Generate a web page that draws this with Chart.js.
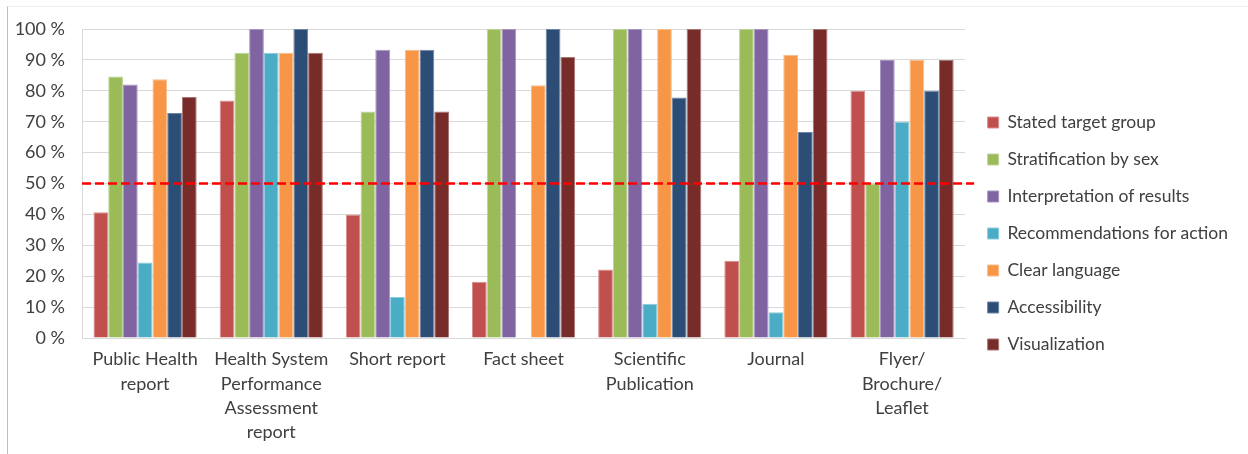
<!DOCTYPE html>
<html>
<head>
<meta charset="utf-8">
<script src="https://cdn.jsdelivr.net/npm/chart.js@4.4.1/dist/chart.umd.min.js"></script>
<style>
  html, body { margin: 0; padding: 0; background: #ffffff; }
  #wrap { position: relative; width: 1248px; height: 454px; overflow: hidden; }
  #frame { position: absolute; left: 7px; top: 6px; right: -2px; bottom: -2px;
           border-left: 1px solid #BDBDBD; border-top: 1px solid #F0F0F0; }
  canvas { position: absolute; left: 0; top: 0; }
</style>
</head>
<body>
<div id="wrap">
  <div id="frame"></div>
  <canvas id="c" width="1248" height="454"></canvas>
</div>
<script>
// ---- data ----
const categories = [
  ["Public Health", "report"],
  ["Health System", "Performance", "Assessment", "report"],
  ["Short report"],
  ["Fact sheet"],
  ["Scientific", "Publication"],
  ["Journal"],
  ["Flyer/", "Brochure/", "Leaflet"]
];
const seriesNames = [
  "Stated target group",
  "Stratification by sex",
  "Interpretation of results",
  "Recommendations for action",
  "Clear language",
  "Accessibility",
  "Visualization"
];
const statedTargetGroup        = [40.7, 76.9, 40.0, 18.2, 22.2, 25.0, 80.0];
const stratificationBySex      = [84.6, 92.3, 73.3, 100, 100, 100, 50.0];
const interpretationOfResults  = [82.0, 100, 93.3, 100, 100, 100, 90.0];
const recommendationsForAction = [24.4, 92.3, 13.3, 0, 11.1, 8.3, 70.0];
const clearLanguage            = [83.7, 92.3, 93.3, 81.8, 100, 91.7, 90.0];
const accessibility            = [72.8, 100, 93.3, 100, 77.8, 66.7, 80.0];
const visualization            = [78.0, 92.3, 73.3, 90.9, 100, 100, 90.0];
const yTicks = [0, 10, 20, 30, 40, 50, 60, 70, 80, 90, 100];
const thresholdValue = 50;

const seriesValues = [statedTargetGroup, stratificationBySex, interpretationOfResults,
  recommendationsForAction, clearLanguage, accessibility, visualization];
const fills   = ["#C0504D", "#9BBB59", "#8064A2", "#4BACC6", "#F79646", "#2C4D75", "#772C2A"];
const borders = ["#D98F8D", "#BCD39A", "#A896C0", "#8CCCDC", "#FABB8A", "#6D86A5", "#A87674"];

const FONT = "Lato, 'Open Sans', sans-serif";
const TEXT = "#404040";

const thresholdPlugin = {
  id: "threshold",
  afterDatasetsDraw(chart) {
    const { ctx, chartArea, scales } = chart;
    const y = scales.y.getPixelForValue(thresholdValue);
    ctx.save();
    ctx.strokeStyle = "#FF0000";
    ctx.lineWidth = 2.5;
    ctx.setLineDash([9, 4]);
    ctx.beginPath();
    ctx.moveTo(chartArea.left, y);
    ctx.lineTo(chartArea.right + 9, y);
    ctx.stroke();
    ctx.restore();
  }
};

const legendShift = {
  id: "legendShift",
  afterUpdate(chart) {
    const lg = chart.legend;
    if (lg) {
      lg.left += 3; lg.right += 3;
      lg.top -= 8; lg.bottom -= 8;
    }
  }
};

new Chart(document.getElementById("c"), {
  type: "bar",
  data: {
    labels: categories,
    datasets: seriesNames.map((name, i) => ({
      label: name,
      data: seriesValues[i],
      backgroundColor: fills[i],
      borderColor: borders[i],
      borderWidth: 1,
      categoryPercentage: 0.818,
      barPercentage: 1.0
    }))
  },
  options: {
    responsive: false,
    animation: false,
    devicePixelRatio: 1,
    layout: { padding: { left: 10, top: 29, right: 13, bottom: 0 } },
    plugins: {
      tooltip: { enabled: false },
      legend: {
        position: "right",
        labels: {
          boxWidth: 11,
          boxHeight: 11,
          padding: 19.5,
          color: TEXT,
          font: { family: FONT, size: 17.5 }
        }
      }
    },
    scales: {
      x: {
        grid: { display: false, drawTicks: false },
        border: { display: true, color: "#D9D9D9", width: 1 },
        ticks: {
          color: TEXT,
          padding: 9,
          maxRotation: 0,
          autoSkip: false,
          font: { family: FONT, size: 18, lineHeight: 1.36 }
        },
        afterFit(scale) { scale.height = 116; }
      },
      y: {
        min: 0,
        max: 100,
        afterBuildTicks(scale) { scale.ticks = yTicks.map(v => ({ value: v })); },
        grid: { color: "#D9D9D9", drawTicks: false },
        border: { display: true, color: "#D9D9D9", width: 1 },
        ticks: {
          color: TEXT,
          padding: 17,
          font: { family: FONT, size: 18 },
          callback: v => v + " %"
        },
        afterFit(scale) { scale.width = 72; }
      }
    }
  },
  plugins: [thresholdPlugin, legendShift]
});
</script>
</body>
</html>
